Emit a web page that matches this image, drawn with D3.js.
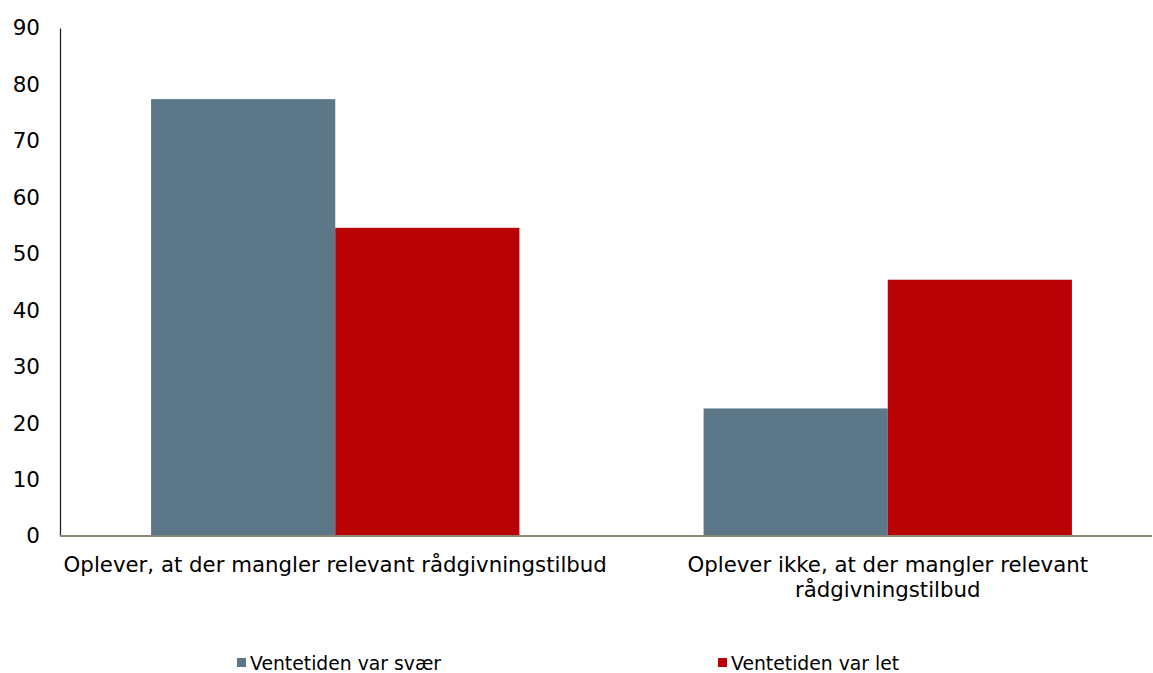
<!DOCTYPE html>
<html>
<head>
<meta charset="utf-8">
<script src="https://cdn.jsdelivr.net/npm/d3@7"></script>
<style>
  body { margin: 0; background: #fff; }
  text { font-family: "DejaVu Sans", Verdana, sans-serif; fill: #000; }
</style>
</head>
<body>
<div id="chart"></div>
<script>
// data
const categories = [
  ["Oplever, at der mangler relevant rådgivningstilbud"],
  ["Oplever ikke, at der mangler relevant", "rådgivningstilbud"]
];
const seriesNames = ["Ventetiden var svær", "Ventetiden var let"];
const svaer = [77.4, 22.6];
const let_ = [54.6, 45.4];
const yTicks = [0, 10, 20, 30, 40, 50, 60, 70, 80, 90];
const colors = ["#5b7788", "#b90005"];

const width = 1153, height = 673;
const margin = {left: 60, top: 28, bottom: 536};

const svg = d3.select("#chart").append("svg")
  .attr("width", width).attr("height", height);

const x0 = d3.scaleBand()
  .domain(d3.range(categories.length))
  .range([59, 1164]);

const x1 = d3.scaleBand()
  .domain([0, 1])
  .range([x0.bandwidth() / 6, x0.bandwidth() * 5 / 6]);

const y = d3.scaleLinear().domain([0, 90]).range([margin.bottom, margin.top]);

const values = [svaer, let_];

// bars
categories.forEach((c, i) => {
  values.forEach((s, j) => {
    svg.append("rect")
      .attr("x", x0(i) + x1(j))
      .attr("y", y(s[i]))
      .attr("width", x1.bandwidth())
      .attr("height", y(0) - y(s[i]))
      .attr("fill", colors[j]);
  });
});

// y axis
const yAxis = svg.append("g")
  .attr("transform", `translate(${margin.left},0)`)
  .call(d3.axisLeft(y).tickValues(yTicks).tickSize(0).tickPadding(20));
yAxis.select(".domain").attr("stroke", "#2b2418").attr("stroke-width", 1.3);
yAxis.attr("font-size", null).attr("font-family", null);
yAxis.selectAll("text")
  .style("font-size", "21.5px")
  .style("font-family", "DejaVu Sans, Verdana, sans-serif")
  .attr("fill", "#000");

// x axis line
svg.append("line")
  .attr("x1", margin.left).attr("x2", 1152)
  .attr("y1", margin.bottom).attr("y2", margin.bottom)
  .attr("stroke", "#8a8775").attr("stroke-width", 2);

// category labels
categories.forEach((lines, i) => {
  const t = svg.append("text")
    .attr("text-anchor", "middle")
    .style("font-size", "21.3px")
    .attr("x", x0(i) + x0.bandwidth() / 2)
    .attr("y", 572);
  lines.forEach((l, k) => {
    t.append("tspan")
      .attr("x", x0(i) + x0.bandwidth() / 2)
      .attr("dy", k === 0 ? 0 : 25)
      .text(l);
  });
});

// legend
const legendX = [237, 718];
seriesNames.forEach((n, j) => {
  svg.append("rect")
    .attr("x", legendX[j]).attr("y", 658)
    .attr("width", 9).attr("height", 9)
    .attr("fill", colors[j]);
  svg.append("text")
    .attr("x", legendX[j] + 13).attr("y", 670)
    .style("font-size", "18.8px")
    .text(n);
});
</script>
</body>
</html>
